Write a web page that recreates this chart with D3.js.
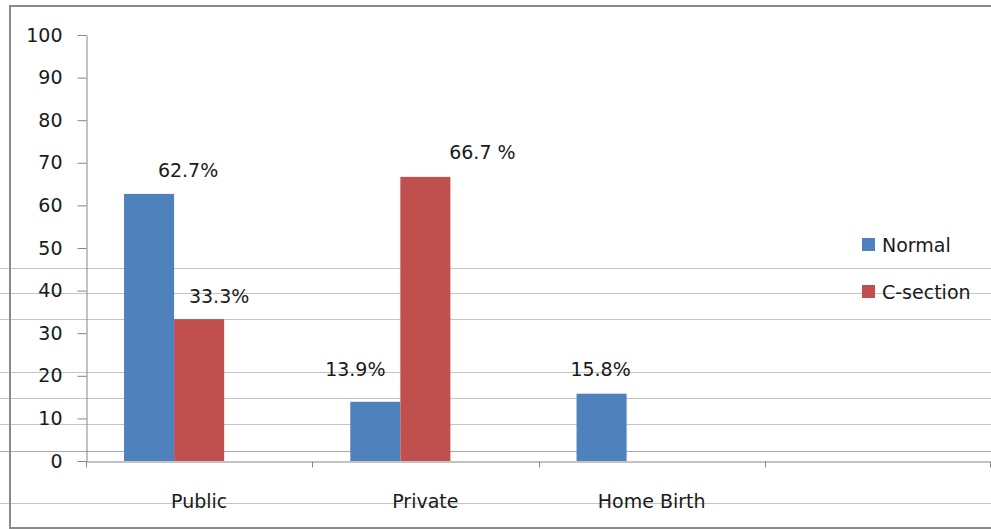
<!DOCTYPE html>
<html>
<head>
<meta charset="utf-8">
<script src="https://cdn.jsdelivr.net/npm/d3@7"></script>
<style>
  html, body { margin: 0; padding: 0; background: #fff; }
  svg { display: block; }
  text { font-family: "DejaVu Sans", sans-serif; fill: #1a1a1a; }
</style>
</head>
<body>
<svg id="chart" width="991" height="529"></svg>
<script>
// data
const categories = ["Public", "Private", "Home Birth", ""];
const seriesNames = ["Normal", "C-section"];
const seriesColors = ["#4f81bd", "#c0504d"];
const normalValues = [62.7, 13.9, 15.8, null];
const csectionValues = [33.3, 66.7, null, null];
const normalLabels = ["62.7%", "13.9%", "15.8%", ""];
const csectionLabels = ["33.3%", "66.7 %", "", ""];
const yTicks = [0, 10, 20, 30, 40, 50, 60, 70, 80, 90, 100];

const svg = d3.select("#chart");
const W = 991, H = 529;
const plot = { left: 86, right: 991, top: 35, bottom: 461 };

// faint horizontal streaks that run across the scanned original
const streaks = [268, 293, 319, 372, 398, 424, 451, 503];
svg.selectAll("line.streak")
  .data(streaks)
  .join("line")
  .attr("class", "streak")
  .attr("x1", 0).attr("x2", W)
  .attr("y1", d => d + 0.5).attr("y2", d => d + 0.5)
  .attr("stroke", (d, i) => i === 6 ? "#a8a8a8" : "#c4c4c4")
  .attr("stroke-width", 1);

// outer frame (left, top, bottom visible)
svg.append("path")
  .attr("d", `M${W},6 L10,6 L10,528 L${W},528`)
  .attr("fill", "none")
  .attr("stroke", "#8a8a8a")
  .attr("stroke-width", 2);

const x0 = d3.scaleBand().domain(categories).range([plot.left, plot.right]).padding(0);
// three slots per group like the original workbook (third one empty)
const x1 = d3.scaleBand()
  .domain([...seriesNames, "_blank"])
  .range([0, x0.bandwidth()])
  .paddingInner(0)
  .paddingOuter(0.76);
const y = d3.scaleLinear().domain([0, 100]).range([plot.bottom, plot.top]);

const rows = categories.map((c, i) => ({
  category: c,
  bars: [
    { series: seriesNames[0], value: normalValues[i], label: normalLabels[i], color: seriesColors[0] },
    { series: seriesNames[1], value: csectionValues[i], label: csectionLabels[i], color: seriesColors[1] }
  ].filter(b => b.value != null)
}));

// bars
const groups = svg.selectAll("g.group")
  .data(rows)
  .join("g")
  .attr("class", "group")
  .attr("transform", d => `translate(${x0(d.category)},0)`);

groups.selectAll("rect")
  .data(d => d.bars)
  .join("rect")
  .attr("x", d => x1(d.series))
  .attr("width", x1.bandwidth())
  .attr("y", d => y(d.value))
  .attr("height", d => y(0) - y(d.value))
  .attr("fill", d => d.color);

// label nudges (the original labels were dragged by hand)
const nudge = {
  "Public|Normal": [39, -17],
  "Public|C-section": [20, -16],
  "Private|Normal": [-20, -26],
  "Private|C-section": [57, -18],
  "Home Birth|Normal": [-1, -18]
};
groups.each(function (g) {
  d3.select(this).selectAll("text.val")
    .data(g.bars)
    .join("text")
    .attr("class", "val")
    .attr("text-anchor", "middle")
    .attr("font-size", 19)
    .attr("x", d => x1(d.series) + x1.bandwidth() / 2 + (nudge[g.category + "|" + d.series] || [0, -8])[0])
    .attr("y", d => y(d.value) + (nudge[g.category + "|" + d.series] || [0, -8])[1])
    .text(d => d.label);
});

// y axis
const yAxis = svg.append("g")
  .attr("transform", `translate(${plot.left + 0.5},0)`)
  .call(d3.axisLeft(y).tickValues(yTicks).tickSize(9).tickPadding(15).tickSizeOuter(0));
yAxis.select(".domain").attr("stroke", "#868686");
yAxis.selectAll(".tick line").attr("stroke", "#868686");
yAxis.selectAll(".tick text")
  .attr("font-size", 19)
  .attr("font-family", "DejaVu Sans, sans-serif")
  .attr("fill", "#1a1a1a");

// x axis: line + boundary ticks + centred labels
const xAxis = svg.append("g")
  .attr("transform", `translate(0,${plot.bottom + 0.5})`)
  .call(d3.axisBottom(x0).tickSize(0).tickPadding(33));
xAxis.select(".domain").attr("stroke", "#868686");
xAxis.selectAll(".tick text")
  .attr("font-size", 19)
  .attr("font-family", "DejaVu Sans, sans-serif")
  .attr("fill", "#1a1a1a");

const bounds = categories.map(c => x0(c)).concat([x0(categories[categories.length - 1]) + x0.bandwidth() - 1]);
xAxis.selectAll("line.bound")
  .data(bounds)
  .join("line")
  .attr("class", "bound")
  .attr("x1", d => Math.round(d) + 0.5).attr("x2", d => Math.round(d) + 0.5)
  .attr("y1", 0).attr("y2", 6)
  .attr("stroke", "#868686");

// legend
const legend = svg.append("g").attr("transform", "translate(862,238)");
const items = legend.selectAll("g")
  .data(seriesNames)
  .join("g")
  .attr("transform", (d, i) => `translate(0,${i * 47})`);
items.append("rect")
  .attr("width", 13).attr("height", 13)
  .attr("fill", (d, i) => seriesColors[i]);
items.append("text")
  .attr("x", 20).attr("y", 14)
  .attr("font-size", 19)
  .text(d => d);
</script>
</body>
</html>
